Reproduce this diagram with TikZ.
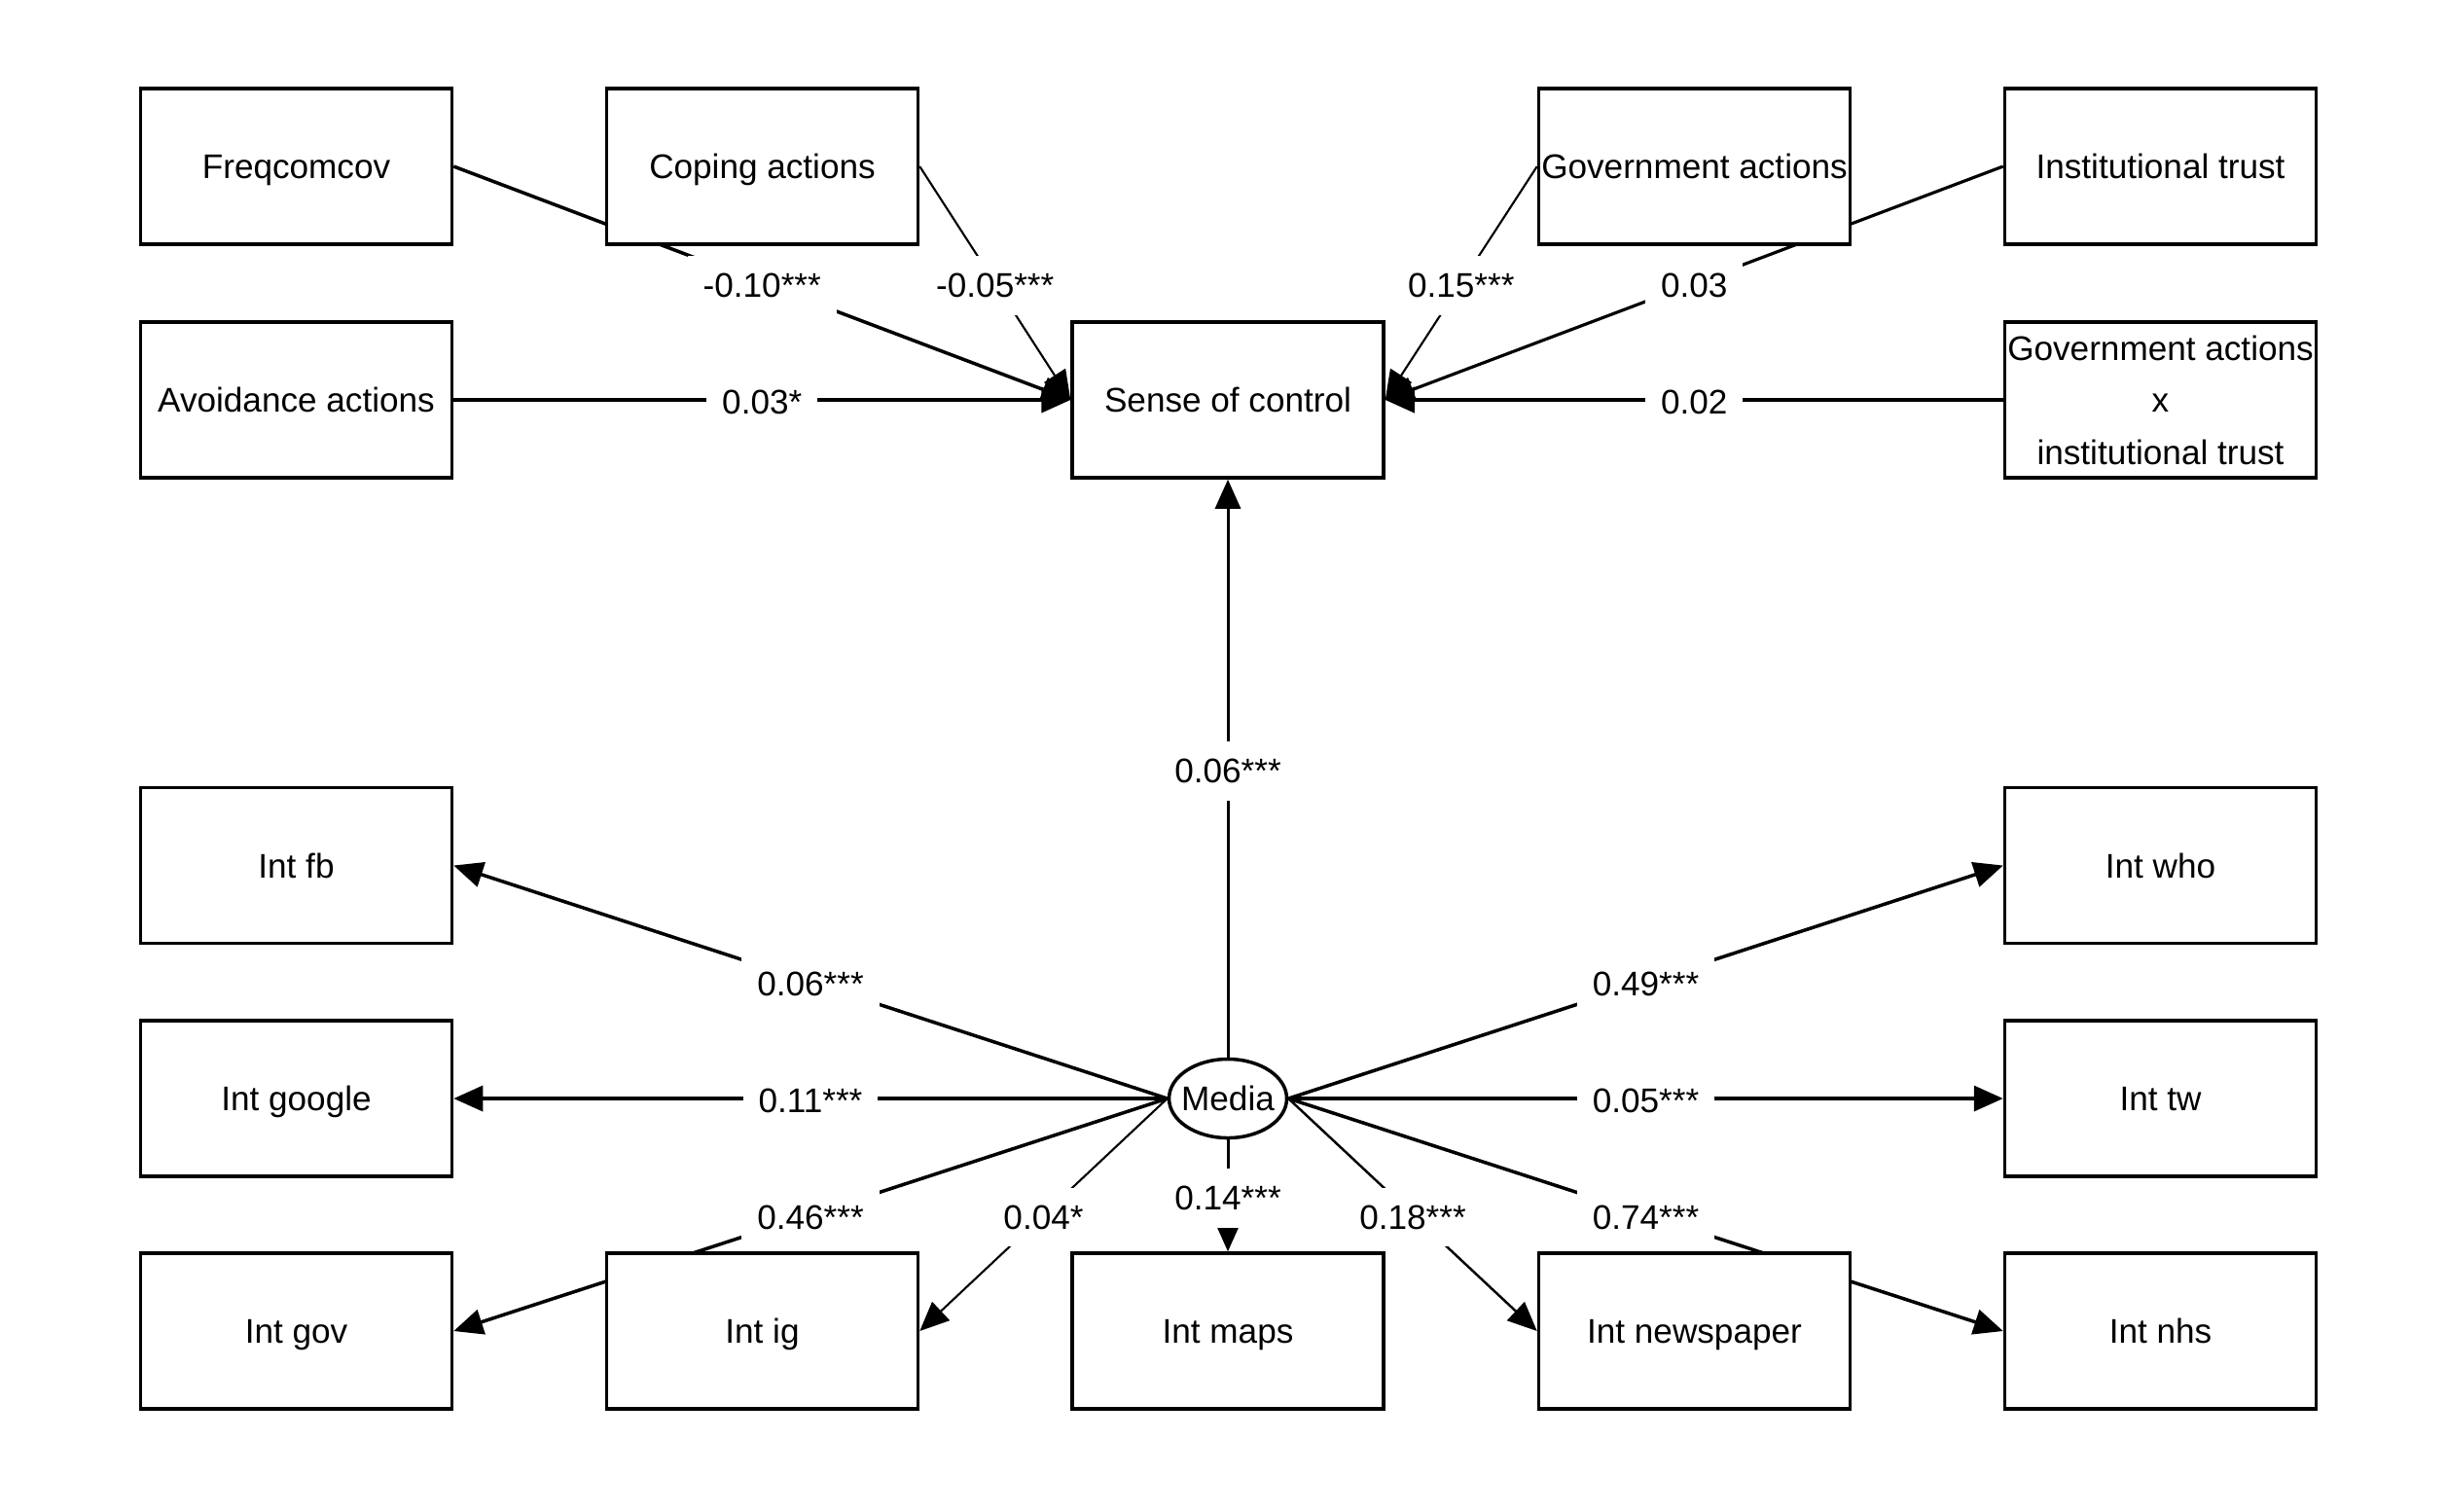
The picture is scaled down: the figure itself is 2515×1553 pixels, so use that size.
\documentclass[tikz,border=0pt]{standalone}
\usepackage{fontspec}
\setmainfont{Liberation Sans}
\usetikzlibrary{arrows.meta,shapes.geometric}
\pgfdeclarelayer{edges}
\pgfsetlayers{edges,main}

\begin{document}
\begin{tikzpicture}[x=0.1mm,y=-0.1mm,
  every node/.style={font=\fontsize{10}{14.8}\selectfont},
  boxbase/.style={draw, line width=1pt, fill=white, minimum width=32mm,
    minimum height=16mm, inner sep=0pt, align=center},
  var/.style={boxbase, text height=0.72em, text depth=0pt},
  lat/.style={ellipse, draw, line width=1pt, fill=white, minimum width=12.1mm,
    minimum height=8.1mm, inner xsep=-0.6mm, inner ysep=0pt,
    text height=0.72em, text depth=0pt},
  reg/.style={-{Triangle[length=3mm,width=2.6mm]}, line width=#1},
  coef/.style={fill=white, inner xsep=1.6mm, inner ysep=1.8mm, pos=0.5,
    yshift=-0.25mm},
]
\useasboundingbox (0,0) rectangle (2515,1553);

% predictors and outcome
\node[var] (freq)     at (304.5,171)  {Freqcomcov};
\node[var] (coping)   at (783.5,171)  {Coping actions};
\node[var] (govact)   at (1741.5,171) {Government actions};
\node[var] (trust)    at (2220.5,171) {Institutional trust};
\node[var] (avoid)    at (304.5,411)  {Avoidance actions};
\node[var] (soc)      at (1262,411)   {Sense of control};
\node[boxbase] (govtrust) at (2220.5,411) {Government actions\\[0.4pt]x\\[0.4pt]institutional trust};

% latent media factor and its indicators
\node[var] (fb)        at (304.5,889.5)  {Int fb};
\node[var] (who)       at (2220.5,889.5) {Int who};
\node[var] (google)    at (304.5,1129)   {Int google};
\node[lat] (media)     at (1262,1129)    {Media};
\node[var] (tw)        at (2220.5,1129)  {Int tw};
\node[var] (intgov)    at (304.5,1368)   {Int gov};
\node[var] (ig)        at (783.5,1368)   {Int ig};
\node[var] (maps)      at (1262,1368)    {Int maps};
\node[var] (newspaper) at (1741.5,1368)  {Int newspaper};
\node[var] (nhs)       at (2220.5,1368)  {Int nhs};

\begin{pgfonlayer}{edges}
% paths into sense of control
\draw[reg=1pt]   (freq.east)     -- (soc.west) node[coef] {-0.10***};
\draw[reg=0.6pt] (coping.east)   -- (soc.west) node[coef] {-0.05***};
\draw[reg=1.1pt] (avoid.east)    -- (soc.west) node[coef] {0.03*};
\draw[reg=0.6pt] (govact.west)   -- (soc.east) node[coef] {0.15***};
\draw[reg=0.9pt] (trust.west)    -- (soc.east) node[coef] {0.03};
\draw[reg=1.1pt] (govtrust.west) -- (soc.east) node[coef] {0.02};
\draw[reg=0.85pt] (media.north)  -- (soc.south) node[coef] {0.06***};

% loadings of the media factor
\draw[reg=1pt]    (media.west)  -- (fb.east)        node[coef] {0.06***};
\draw[reg=1pt]    (media.west)  -- (google.east)    node[coef] {0.11***};
\draw[reg=1pt]    (media.west)  -- (intgov.east)    node[coef] {0.46***};
\draw[reg=0.6pt]  (media.west)  -- (ig.east)        node[coef] {0.04*};
\draw[reg=0.85pt] (media.south) -- (maps.north)     node[coef] {0.14***};
\draw[reg=0.7pt]  (media.east)  -- (newspaper.west) node[coef] {0.18***};
\draw[reg=1pt]    (media.east)  -- (nhs.west)       node[coef] {0.74***};
\draw[reg=1pt]    (media.east)  -- (who.west)       node[coef] {0.49***};
\draw[reg=1pt]    (media.east)  -- (tw.west)        node[coef] {0.05***};
\end{pgfonlayer}
\end{tikzpicture}
\end{document}
